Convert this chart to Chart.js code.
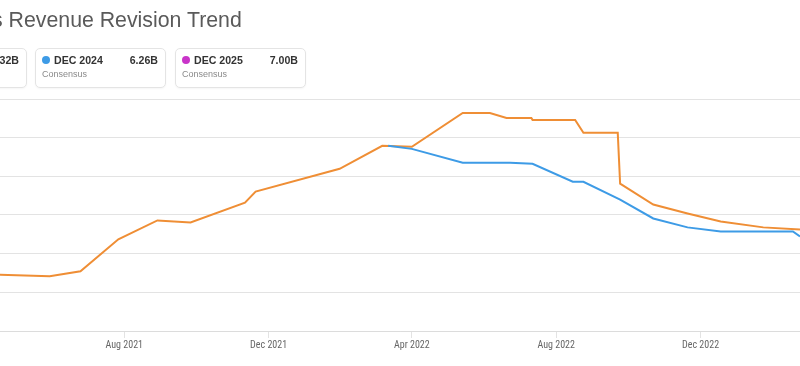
<!DOCTYPE html>
<html>
<head>
<meta charset="utf-8">
<script src="https://cdn.jsdelivr.net/npm/chart.js@4"></script>
<style>
  html, body { margin: 0; padding: 0; background: #fff; overflow: hidden; width: 800px; height: 366px; }
  #title { position: absolute; left: -8px; top: 8px; font: 21.3px "Liberation Sans", Arial, sans-serif; color: #5a5a5a; white-space: nowrap; line-height: 24px; }
  .box { position: absolute; top: 48px; width: 129px; height: 38px; border: 1px solid #e4e4e4; border-radius: 5px; background: #fff; box-shadow: 0 1px 2px rgba(0,0,0,0.04); font-family: "Liberation Sans", Arial, sans-serif; }
  .dot { position: absolute; left: 6px; top: 7px; width: 8px; height: 8px; border-radius: 50%; }
  .name { position: absolute; left: 18px; top: 5px; font-size: 10.6px; font-weight: bold; color: #333; }
  .val { position: absolute; right: 7px; top: 5px; font-size: 10.6px; font-weight: bold; color: #333; }
  .sub { position: absolute; left: 6px; top: 20px; font-size: 9px; color: #8a8a8a; }
  #wrap { position: absolute; left: 0; top: 0; width: 800px; height: 366px; }
</style>
</head>
<body>
<div id="wrap"><canvas id="c" width="800" height="366"></canvas></div>
<div id="title">s Revenue Revision Trend</div>
<div id="legend"></div>
<script>
// ---- data ----
const seriesNames = ['DEC 2023', 'DEC 2024', 'DEC 2025'];
const seriesValuesLabel = ['6.32B', '6.26B', '7.00B'];
const seriesColors = ['#ef8e35', '#3d9be6', '#c934c9'];

const dec2023Dates = ['2021-04-01','2021-05-30','2021-06-25','2021-07-27','2021-08-29','2021-09-26','2021-11-11','2021-11-20','2022-01-30','2022-03-07','2022-04-01','2022-05-14','2022-06-06','2022-06-20','2022-07-11','2022-07-12','2022-08-17','2022-08-24','2022-09-22','2022-09-24','2022-10-22','2022-11-20','2022-12-18','2023-01-23','2023-02-23','2023-03-05'];
const dec2023Values = [6.095, 6.083, 6.109, 6.274, 6.372, 6.361, 6.464, 6.521, 6.639, 6.758, 6.753, 6.928, 6.928, 6.902, 6.902, 6.892, 6.892, 6.825, 6.825, 6.562, 6.454, 6.408, 6.366, 6.336, 6.325, 6.32];

const dec2024Dates = ['2022-03-12','2022-04-01','2022-05-14','2022-06-23','2022-07-12','2022-08-15','2022-08-24','2022-09-24','2022-10-22','2022-11-20','2022-12-18','2023-02-17','2023-02-23','2023-03-01'];
const dec2024Values = [6.758, 6.742, 6.670, 6.670, 6.665, 6.572, 6.572, 6.480, 6.382, 6.336, 6.315, 6.315, 6.289, 6.26];

const tickDates = ['2021-08-01','2021-12-01','2022-04-01','2022-08-01','2022-12-01'];
const tickLabels = ['Aug 2021','Dec 2021','Apr 2022','Aug 2022','Dec 2022'];
const xRange = ['2021-04-18','2023-02-23'];
const yRange = [5.8, 7.0];
const yStep = 0.2;

// ---- helpers ----
const day = s => Date.UTC(+s.slice(0,4), +s.slice(5,7) - 1, +s.slice(8,10)) / 86400000;
const toPts = (ds, vs) => ds.map((d, i) => ({ x: day(d), y: vs[i] }));

// legend boxes
const lefts = [-104, 35, 175];
const legend = document.getElementById('legend');
seriesNames.forEach((n, i) => {
  const b = document.createElement('div');
  b.className = 'box';
  b.style.left = lefts[i] + 'px';
  b.innerHTML = '<div class="dot" style="background:' + seriesColors[i] + '"></div>' +
    '<div class="name">' + n + '</div><div class="val">' + seriesValuesLabel[i] + '</div>' +
    '<div class="sub">Consensus</div>';
  legend.appendChild(b);
});

const tickFont = { family: '"Roboto Condensed", "DejaVu Sans Condensed", "Liberation Sans Narrow", "Arial Narrow", "Liberation Sans", Arial, sans-serif', size: 10 };

new Chart(document.getElementById('c'), {
  type: 'line',
  data: {
    datasets: [
      { label: seriesNames[1], data: toPts(dec2024Dates, dec2024Values), borderColor: seriesColors[1], borderWidth: 2, pointRadius: 0, tension: 0, fill: false },
      { label: seriesNames[0], data: toPts(dec2023Dates, dec2023Values), borderColor: seriesColors[0], borderWidth: 2, pointRadius: 0, tension: 0, fill: false }
    ]
  },
  options: {
    responsive: false,
    animation: false,
    layout: { padding: { top: 99, bottom: 14, left: 0, right: 0 } },
    plugins: { legend: { display: false }, tooltip: { enabled: false } },
    scales: {
      x: {
        type: 'linear',
        min: day(xRange[0]),
        max: day(xRange[1]),
        afterBuildTicks: s => { s.ticks = tickDates.map(d => ({ value: day(d) })); },
        ticks: {
          autoSkip: false, maxRotation: 0, padding: 1, color: '#666', font: tickFont,
          callback: v => { const i = tickDates.findIndex(d => day(d) === v); return i >= 0 ? tickLabels[i] : ''; }
        },
        grid: { drawOnChartArea: false, drawTicks: true, tickLength: 7, color: '#e3e3e3' },
        border: { color: '#dcdcdc' }
      },
      y: {
        min: yRange[0], max: yRange[1],
        ticks: { display: false, stepSize: yStep },
        grid: { color: '#e3e3e3', drawTicks: false },
        border: { display: false }
      }
    }
  }
});
</script>
</body>
</html>
